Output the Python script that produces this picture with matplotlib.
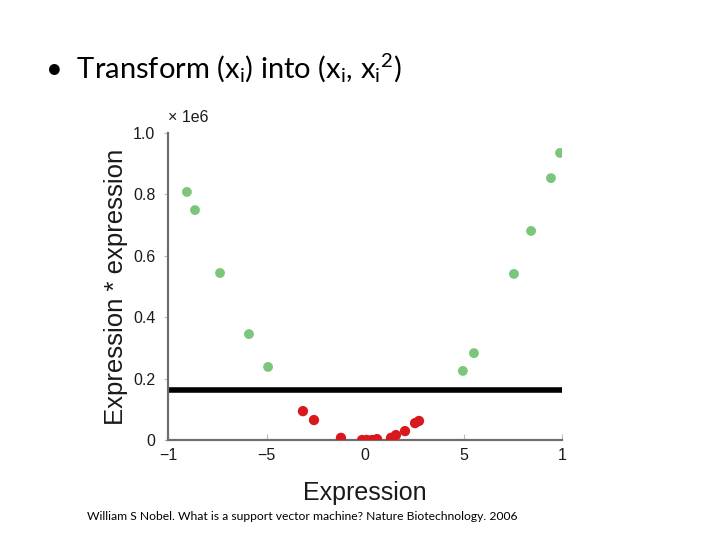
import matplotlib
matplotlib.use("Agg")
import matplotlib.pyplot as plt

# Data (x in expression units, y = expression^2)
green_x = [-904, -863, -736, -589, -492, 497, 553, 756, 843, 944, 990]
green_y = [0.808e6, 0.749e6, 0.544e6, 0.345e6, 0.238e6, 0.225e6, 0.283e6, 0.541e6, 0.681e6, 0.853e6, 0.935e6]
red_x = [-315, -259, -122, -15, 10, 36, 61, 132, 157, 203, 254, 274]
red_y = [0.094e6, 0.065e6, 0.007e6, 0.0, 0.0, 0.0, 0.003e6, 0.007e6, 0.016e6, 0.029e6, 0.055e6, 0.062e6]
threshold = 0.163e6
x_ticks = [-1000, -500, 0, 500, 1000]
x_ticklabels = ["\u22121", "\u22125", "0", "5", "1"]
y_ticks = [0, 0.2e6, 0.4e6, 0.6e6, 0.8e6, 1.0e6]
y_ticklabels = ["0", "0.2", "0.4", "0.6", "0.8", "1.0"]

plt.rcParams['mathtext.fontset'] = 'custom'
plt.rcParams['mathtext.rm'] = 'Lato'
plt.rcParams['mathtext.it'] = 'Lato:italic'

fig = plt.figure(figsize=(7.2, 5.4), dpi=100)
fig.patch.set_facecolor('white')

ax = fig.add_axes([168/720, 1-440/540, 394/720, 307/540])
ax.scatter(green_x, green_y, s=50, color='#6cc06c', edgecolors='none', zorder=3, alpha=0.9)
ax.scatter(red_x, red_y, s=55, color='#d8181c', edgecolors='none', zorder=3)
ax.axhline(threshold, color='black', lw=4, zorder=2)

ax.set_xlim(-1000, 1000)
ax.set_ylim(0, 1.0e6)
ax.set_xticks(x_ticks)
ax.set_xticklabels(x_ticklabels, family='Liberation Sans', fontsize=11.5, color='#1a1a1a')
ax.set_yticks(y_ticks)
ax.set_yticklabels(y_ticklabels, family='Liberation Sans', fontsize=11.5, color='#1a1a1a')
ax.tick_params(axis='x', direction='in', length=4, color='#bbbbbb', pad=6)
ax.tick_params(axis='y', direction='out', length=3, color='#bbbbbb', pad=6)
for s in ['top', 'right']:
    ax.spines[s].set_visible(False)
for s in ['left', 'bottom']:
    ax.spines[s].set_color('#6e6e6e')
    ax.spines[s].set_linewidth(1.6)

ax.set_xlabel('Expression', family='Liberation Sans', fontsize=18, color='#1a1a1a', labelpad=13)
ax.set_ylabel('Expression * expression', family='Liberation Sans', fontsize=18.5, color='#1a1a1a', labelpad=4)

fig.text(168/720, 1-117/540, '\u00d7 1e6', family='Liberation Sans', fontsize=11.5,
         color='#1a1a1a', ha='left', va='center')

fig.text(45/720, 1-68/540,
         '\u2022  Transform (x$_\\mathregular{i}$) into (x$_\\mathregular{i}$, x$_\\mathregular{i}$$^\\mathregular{2}$)',
         family='Lato', fontsize=21, color='black', ha='left', va='center')

fig.text(87/720, 1-516/540,
         'William S Nobel. What is a support vector machine? Nature Biotechnology. 2006',
         family='Lato', fontsize=8.7, color='black', ha='left', va='center')

fig.savefig('out.png', dpi=100, facecolor='white')
